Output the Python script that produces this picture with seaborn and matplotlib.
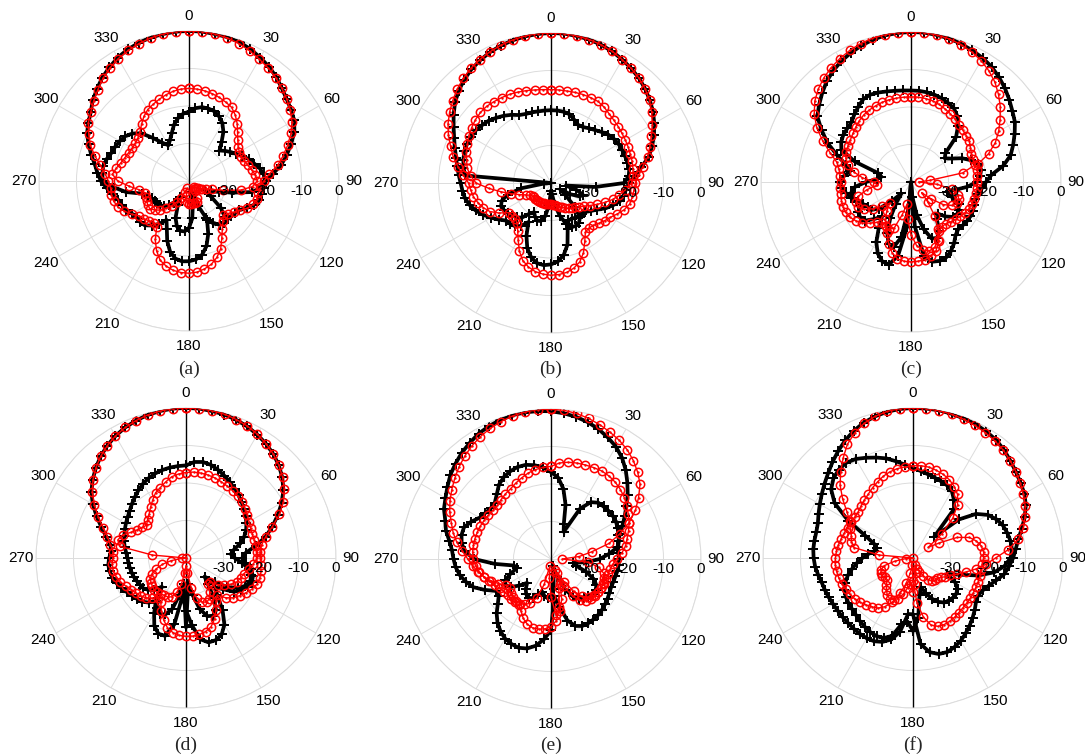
import numpy as np
import matplotlib
matplotlib.use("Agg")
import matplotlib.pyplot as plt
import matplotlib.transforms as mtransforms
import seaborn as sns

# Angular sampling of the radiation patterns (deg, clockwise from broadside)
ANGLES_DEG = list(range(0, 360, 5))
THETA_TICKS_DEG = [0, 30, 60, 90, 120, 150, 180, 210, 240, 270, 300, 330]
THETA_TICK_LABELS = ["0", "30", "60", "90", "120", "150", "180", "210", "240", "270", "300", "330"]
R_TICKS = [-30, -20, -10, 0]
R_TICK_LABELS = ["-30", "-20", "-10", "0"]
PANEL_TAGS = ["(a)", "(b)", "(c)", "(d)", "(e)", "(f)"]
R_MIN, R_MAX = -40, 0

# Normalised gain (dB) -- simulated co-pol / cross-pol, measured co-pol / cross-pol
a_sim_co = [0, 0, -0.2, -0.3, -0.6, -1.2, -2, -2.8, -3.8, -5, -6, -6.8,
            -7.6, -9, -11, -13, -15, -17.5, -19.5, -20, -20.3, -20.8, -21.5, -23,
            -24.5, -25, -25.3, -25.5, -25.6, -25.8, -27, -28.6, -25, -22, -20, -19,
            -18.6, -18.5, -19, -20.5, -23, -26, -28, -26, -24.5, -23.3, -23, -23,
            -22.5, -21.5, -21, -20.5, -19.3, -18, -16.5, -15.5, -14.5, -13, -11.5, -10,
            -9, -8, -6.5, -5.3, -4, -3, -2, -1.3, -0.8, -0.4, -0.2, 0]
a_sim_cx = [-21.5, -20.5, -20, -20, -20.2, -21, -22.2, -24, -26.5, -28.5, -27.5, -26.5,
            -25.5, -24.3, -23, -22, -20.8, -20, -19.8, -20.5, -23, -28, -31.5, -33.5,
            -35, -33, -29, -26.5, -25.5, -25.8, -27, -29, -33, -37, -34, -30,
            -27.5, -26.5, -26.5, -27.5, -29.5, -33, -35, -33, -31.5, -30.5, -30, -29.6,
            -29.5, -29, -28.5, -27, -23, -20, -17, -16.8, -16.8, -17.3, -18, -18.3,
            -18.7, -19.2, -20.3, -22, -25, -27.5, -29, -28, -26.5, -24.5, -23, -22]
a_meas_co = [0, 0, -0.2, -0.5, -1, -1.7, -2.5, -3.2, -4, -5, -6, -7,
             -8.3, -10, -12, -14, -16, -18.5, -20, -21, -21.3, -21.3, -21.8, -22.8,
             -24.4, -25.5, -26.5, -27, -26, -24.5, -22.5, -20, -18.3, -17, -16.2, -15.6,
             -15.4, -15.5, -15.8, -16.5, -17.5, -19.5, -22, -25, -25.5, -25, -24.3, -23.8,
             -22.3, -21, -19.8, -19.2, -19, -19, -18.5, -17.5, -16, -14, -12, -10.5,
             -9, -8, -6.8, -5.6, -4.3, -3.2, -2.3, -1.6, -1, -0.5, -0.2, 0]
a_meas_cx = [-15.3, -15.4, -15.6, -15.9, -16.3, -16.8, -17.3, -18.5, -20, -21.7, -23, -24,
             -24.5, -24.6, -24.3, -23.7, -23, -22.2, -21.8, -23, -26, -30.5, -33.5, -35,
             -36, -36.5, -37, -37.5, -38, -37.5, -37, -35, -34, -34, -34, -33.8,
             -34, -34.5, -36, -38, -37, -35, -33.5, -32, -30.5, -29, -28, -27.2,
             -27.3, -27.5, -27.7, -27.8, -26.5, -24, -21, -19.5, -20.3, -21.2, -21.8, -22.2,
             -22.5, -22.5, -22.2, -21.5, -20.3, -19, -18, -17.4, -16.8, -16.2, -15.7, -15.4]

b_sim_co = [0, 0, -0.2, -0.4, -0.8, -1.3, -2, -2.7, -3.5, -4.5, -5.6, -6.8,
            -8.2, -9.7, -11.3, -13, -15.5, -17.5, -19.2, -20, -20.3, -21, -22.5, -24,
            -25.8, -27, -28, -28.3, -28.5, -28.7, -29, -29, -27, -23, -20.5, -19,
            -18.3, -18, -18.3, -19.5, -21.5, -24.5, -28, -26, -25, -24.6, -24.4, -23,
            -21.5, -20, -18.6, -17.5, -16.7, -16.3, -15.9, -15.3, -14.6, -13.8, -12.7, -11.5,
            -10, -8.3, -6.6, -5.2, -4, -3, -2.2, -1.5, -1, -0.6, -0.3, -0.1]
b_sim_cx = [-20.6, -20.6, -20.7, -21, -22, -22.9, -22.8, -22.2, -21.6, -20.8, -20, -19.5,
            -19.2, -19.1, -19, -18.9, -18.8, -19.2, -20.5, -28, -36, -33, -31, -31.5,
            -34, -37, -35, -31, -28, -27, -26.8, -27, -28.5, -31, -34, -37,
            -38, -34, -31, -29.5, -29.3, -30, -31, -30, -28, -27, -26.5, -26,
            -25.5, -25.3, -26, -28, -32, -38, -40, -17, -16.3, -15.8, -15.4, -15.3,
            -15.4, -15.5, -16, -16.5, -17.3, -18.1, -19, -20, -20.4, -20.5, -20.6, -20.6]
b_meas_co = [0, 0, -0.2, -0.4, -0.8, -1.3, -2, -2.7, -3.5, -4.5, -5.7, -7.2,
             -8.8, -10.5, -12, -13.3, -15.2, -16.5, -17.5, -17.8, -18, -18.3, -19.2, -20.5,
             -21.7, -22.5, -23.3, -24, -24.3, -24, -22, -19.5, -17.6, -16.5, -15.8, -15.5,
             -15.4, -15.6, -16, -16.8, -18, -20, -22.5, -24.5, -26, -26.5, -26.5, -26.2,
             -24, -22, -20.8, -19.8, -19, -18.5, -18, -16.5, -14.8, -13, -11.5, -9.8,
             -8.3, -7, -5.8, -4.6, -3.6, -2.7, -2, -1.4, -0.9, -0.5, -0.2, 0]
b_meas_cx = [-15.1, -15.1, -15.1, -15, -14.9, -14.9, -14.9, -15.3, -15.9, -16.3, -16.6, -16.9,
             -17.1, -17.3, -17.5, -17.6, -17.8, -18, -18.5, -20, -21.5, -23, -24.8, -26.5,
             -28, -29.2, -30.2, -30.8, -31.2, -31.7, -32.3, -32.8, -33.2, -33.6, -34, -34.2,
             -34.3, -34.4, -34.4, -34.3, -34.2, -34.1, -34, -34, -34, -34, -34, -34,
             -33.5, -32.5, -31, -29, -26.5, -23.4, -20, -18.5, -17.3, -16.7, -16, -15.4,
             -14.7, -14.2, -13.7, -13.4, -13.3, -13.5, -13.7, -13.9, -14.2, -14.5, -14.8, -15]

c_sim_co = [0, 0, -0.2, -0.4, -0.8, -1.3, -1.8, -2.5, -3.5, -4.6, -5.8, -7,
            -8, -9.5, -11, -12.5, -15, -18.5, -20, -21, -22, -22.2, -22, -21.8,
            -21.7, -21.8, -22, -22.2, -21.5, -20, -18.7, -17.8, -17.6, -18, -20, -28,
            -40, -28, -20, -17.2, -17.5, -19, -21.5, -25, -28, -26, -24, -23.5,
            -23.8, -25, -24.5, -23.5, -22.5, -21.5, -21, -22, -23.5, -22, -19, -15.5,
            -12.5, -9.5, -8, -6.5, -5, -3.8, -2.8, -2, -1.3, -0.7, -0.3, -0.1]
c_sim_cx = [-15.6, -15.6, -15.7, -15.9, -16.2, -16.7, -17.2, -18.5, -20.5, -23, -28, -29,
            -27.5, -25, -23, -21.5, -21, -21.5, -22.5, -25, -28, -30, -28.5, -26,
            -25.3, -25, -25.5, -27, -29, -28, -25, -23.5, -24, -27, -31, -36,
            -40, -33, -25, -22, -22.5, -25, -29, -33, -36, -33, -29, -27,
            -26.8, -26, -25, -24, -23.8, -25, -28, -31, -32, -31, -24, -19.5,
            -18.5, -18, -17.8, -17.5, -16.5, -15.5, -14.5, -14.3, -14.6, -15, -15.3, -15.5]
c_meas_co = [0, 0, -0.2, -0.5, -1, -1.7, -2.6, -3.8, -5.2, -7, -8.9, -11,
             -13, -15.2, -18, -21.5, -22, -22.2, -22.3, -22.4, -22.5, -22.6, -22.8, -23,
             -23.5, -24, -24.5, -25, -25.5, -25.5, -25, -22.5, -20.5, -19.5, -19, -18.8,
             -18.7, -18.8, -19.2, -20.5, -22.5, -25, -26.5, -26.5, -26, -24.5, -23, -22,
             -21.2, -20.8, -20.7, -20.8, -21, -21.1, -21.2, -21, -20.5, -19.5, -17, -14,
             -11, -8.5, -6.5, -5, -3.8, -2.8, -2, -1.3, -0.7, -0.3, -0.1, 0]
c_meas_cx = [-17.3, -17.3, -17.4, -17.6, -18, -18.5, -19, -19.5, -20, -20.4, -20.8, -21,
             -21.7, -22.2, -22.4, -22.3, -26, -35, -38, -33, -29, -27, -26.5, -26.5,
             -27.5, -29.5, -33, -36, -33, -29, -25.5, -23, -21.5, -21, -21.5, -23,
             -26, -30, -34, -31, -27, -26, -26.5, -28, -30, -32, -30, -27.5,
             -25.5, -24.5, -24.5, -25.5, -28, -31, -30, -27, -24.5, -22.5, -21.5, -21,
             -20.6, -20.3, -19.8, -19.2, -18.6, -18.1, -17.8, -17.6, -17.4, -17.3, -17.3, -17.3]

d_sim_co = [0, 0, -0.2, -0.4, -0.8, -1.3, -2, -2.8, -3.8, -5, -6.5, -8.3,
            -10.5, -13, -15.5, -18, -21, -24, -25, -24, -22.5, -21.5, -21.3, -21.8,
            -23, -24.3, -27, -29, -27, -23, -19.5, -17.5, -16.7, -16.7, -18, -22,
            -26, -30, -22, -18.5, -18.5, -20, -23, -26, -24.5, -23.5, -23, -22.5,
            -21.8, -21, -20.3, -19.7, -19.3, -19.2, -19.5, -20, -19.5, -18, -16, -13.7,
            -11.3, -9.2, -7.5, -6, -4.6, -3.4, -2.4, -1.6, -1, -0.5, -0.2, 0]
d_sim_cx = [-15.3, -14.3, -14, -14.3, -15, -15.8, -16.6, -17.4, -18.2, -19, -19.8, -20.6,
            -21.4, -22.3, -23.5, -25, -27, -28, -27, -25, -23, -22, -21.8, -22.5,
            -24, -26.5, -30, -33, -31, -27, -24, -23, -23.5, -26, -30, -33,
            -21.5, -33, -30, -26, -24, -23.5, -24.5, -27, -30, -28, -26.8, -26,
            -25.8, -25.5, -25.2, -25, -24.8, -24.6, -24.4, -24, -23.4, -22.9, -22.5, -22,
            -21.5, -21, -20.4, -19.6, -18.8, -17.9, -17.1, -16.5, -16, -15.7, -15.5, -15.4]
d_meas_co = [0, 0, -0.1, -0.3, -0.7, -1.2, -1.9, -2.8, -3.8, -5, -6.4, -8,
             -10, -12.5, -15.5, -18, -19.5, -20.2, -20.2, -20, -19.7, -19.6, -19.8, -20.5,
             -21.5, -22.5, -23.5, -25, -27, -26, -24, -22, -20.5, -19.7, -19.3, -19.1,
             -19.1, -19.3, -19.8, -20.8, -22.5, -24.5, -26.5, -27, -26, -25, -24.2, -23.7,
             -23.2, -22.3, -21.4, -20.7, -20.3, -20.2, -20.5, -20.5, -19.5, -18.3, -16.5, -14.2,
             -11.8, -9.5, -7.6, -6, -4.6, -3.4, -2.4, -1.6, -1, -0.5, -0.2, 0]
d_meas_cx = [-17.2, -17, -17, -17.1, -17.3, -17.6, -17.9, -18.2, -18.5, -19, -19.5, -20,
             -20.6, -21, -21.2, -21.2, -21.1, -21, -21, -22, -23, -24, -24.5, -25,
             -26, -27.5, -29, -31, -31, -29, -27.5, -27, -27.5, -29, -32, -36,
             -38, -36, -33, -30.5, -29, -28.5, -28.5, -28.3, -28, -28, -28.3, -28.6,
             -29, -30, -31.5, -33.5, -36, -39, -40, -31, -22, -21.2, -22, -23.8,
             -25, -25.8, -26.3, -25.5, -24.7, -23.5, -22.2, -20.8, -20, -19, -18, -17.5]

e_sim_co = [-0.6, -1, -1.5, -2.2, -3.1, -4.2, -5.4, -7, -9, -11.2, -13.3, -15.5,
            -17.3, -19, -20.5, -21.3, -21.8, -22, -21.9, -21.9, -22, -22.2, -22.3, -22.3,
            -22, -21.6, -21.2, -20.8, -20.5, -20.3, -20.2, -20.3, -21, -23, -27, -30,
            -21, -18.5, -16.5, -15.3, -14.8, -15, -15.5, -16.5, -17.8, -19.5, -21.5, -23,
            -23, -20.5, -18, -16.5, -15.3, -14.5, -14, -13.5, -12.5, -11, -10, -8.5,
            -7.5, -6.3, -5, -4, -3, -2.2, -1.4, -0.9, -0.5, -0.3, -0.3, -0.4]
e_sim_cx = [-16.8, -18.2, -21, -25, -30, -32, -24.5, -21.5, -20.4, -20.2, -20, -19.9,
            -20, -20.4, -20.9, -21.3, -22, -24.5, -27, -30.5, -34, -33, -30, -27.5,
            -26, -25.5, -25.5, -26, -26.5, -27, -28.5, -31, -35, -38, -36, -32,
            -30, -29.5, -30, -31, -30, -28.5, -28, -28.5, -29.5, -31, -29, -27,
            -26, -26.5, -28.5, -30.5, -30, -25, -19.5, -17, -15.8, -15.3, -15.3, -16.5,
            -18, -18.6, -19, -18.8, -17.5, -15.8, -14.8, -14.2, -13.9, -14, -14.6, -15.5]
e_meas_co = [0, -0.2, -0.6, -1.2, -1.9, -2.7, -3.5, -4.5, -5.8, -7.3, -9, -11.5,
             -14, -17, -20.5, -24, -29, -32.5, -37, -30, -27, -25.5, -25, -24.7,
             -24.6, -24.7, -24.8, -25, -25.5, -26.5, -28.5, -32, -37, -32, -27, -23.5,
             -22, -21.3, -21, -21, -21.5, -22.5, -24, -25, -25, -25, -25, -24.8,
             -24.3, -23.5, -22.5, -21.5, -20.3, -19, -17.8, -16.3, -14.5, -13, -11.7, -10.2,
             -8.9, -7.7, -6.5, -5.3, -4.2, -3.2, -2.3, -1.6, -1, -0.5, -0.2, 0]
e_meas_cx = [-15.3, -14.3, -13.8, -13.5, -13.3, -13.1, -12.9, -13, -13.3, -13.8, -14.5, -15.3,
             -16.2, -17, -18, -19, -19.8, -21, -22.5, -23.5, -24, -24.2, -24.4, -24.5,
             -24.6, -24.8, -25, -25.5, -27, -29.5, -33, -36, -33, -29, -26, -25,
             -30, -35, -38, -33, -29, -27, -26, -25.5, -25.3, -25.5, -26, -26.5,
             -26, -24.5, -23, -21.5, -20.5, -19.8, -19.3, -19, -19, -19, -19.1, -19.2,
             -19.4, -19.6, -19.8, -19.8, -19.3, -18.8, -18.4, -17.7, -17, -16.3, -15.8, -15.5]

f_sim_co = [0, 0, 0, -0.2, -0.4, -0.6, -1, -1.5, -2.3, -3.3, -4.2, -5,
            -5.7, -6.8, -8.3, -10, -11.5, -12.5, -13.3, -14.3, -15.3, -17, -18.5, -19.5,
            -20, -19.5, -18.5, -17.5, -16.5, -15.5, -14.5, -13.8, -13.3, -13.5, -14.5, -17,
            -25, -25, -20, -17.5, -16.2, -15.5, -15.3, -15.3, -15.4, -15.5, -15.5, -15.5,
            -15.4, -15.2, -15, -14.8, -14.3, -13.8, -13.5, -13.3, -13.3, -13.3, -13, -12.2,
            -11.3, -10.3, -9.2, -8, -6.6, -5.2, -3.8, -2.6, -1.6, -0.9, -0.4, -0.1]
f_sim_cx = [-16, -16.7, -17.3, -17.8, -18.2, -18.6, -19.3, -21, -23, -32, -24, -19.5,
            -17, -15.5, -14.5, -14, -13.6, -13.5, -14, -15.5, -18, -22, -27, -30,
            -27, -25.5, -25, -25, -25.2, -25.5, -26.5, -28, -30, -32, -30, -24,
            -20.5, -23, -22, -18.5, -17.3, -17, -17.2, -17.6, -18, -18.5, -18.8, -19,
            -19.3, -19.8, -20.8, -22, -23.5, -25, -26.5, -28, -29.5, -30, -29, -26,
            -20, -14.5, -11.5, -10, -9.2, -9, -9.5, -10.5, -11.5, -12.5, -13.8, -15]
f_meas_co = [0, 0, -0.1, -0.3, -0.6, -1, -1.4, -1.9, -2.5, -3.3, -4.2, -5.1,
             -6, -7, -8.2, -9.6, -11.5, -14.5, -18, -20.5, -23, -25.5, -27.5, -29,
             -30, -31, -31.5, -31.7, -32, -33, -34.5, -36, -37, -38, -36, -33,
             -31, -33, -32, -30, -28.5, -27.7, -27.5, -28, -29, -30, -31, -31,
             -30.5, -30.5, -31, -32, -35, -38, -40, -31, -24, -23, -22.5, -21.5,
             -20.5, -18.5, -15.5, -12.5, -10, -7.5, -5, -3.2, -1.8, -0.9, -0.3, 0]
f_meas_cx = [-15.4, -15.3, -15.4, -15.8, -16.3, -17, -18, -19.3, -21.5, -25, -30, -35,
             -32, -27, -24, -22.5, -21.5, -21.1, -21.2, -21.4, -21.5, -21.5, -21.5, -21.5,
             -21.4, -21.3, -21.3, -21.2, -21, -20.7, -20.5, -20.4, -20.6, -21.5, -24, -28,
             -34, -38, -36, -33, -30, -27, -25, -23.7, -23, -22.3, -21.6, -21,
             -20.6, -20.2, -19.8, -19.5, -19.3, -19.2, -19.3, -19.5, -19.8, -20.2, -20.5, -20.8,
             -21, -21, -20.9, -20.4, -19.8, -19.2, -18.4, -17.6, -16.8, -16.2, -15.8, -15.6]

PANEL_SERIES = [
    (a_sim_co, a_sim_cx, a_meas_co, a_meas_cx),
    (b_sim_co, b_sim_cx, b_meas_co, b_meas_cx),
    (c_sim_co, c_sim_cx, c_meas_co, c_meas_cx),
    (d_sim_co, d_sim_cx, d_meas_co, d_meas_cx),
    (e_sim_co, e_sim_cx, e_meas_co, e_meas_cx),
    (f_sim_co, f_sim_cx, f_meas_co, f_meas_cx),
]

# ---- layout (pixels of the 1085 x 756 canvas) ----
W, H = 1085, 756
RADIUS = 150
CENTERS = [(189, 181), (551, 183), (911, 182), (186, 558), (551, 559), (913, 558)]
TAG_XY = [(189, 369), (551, 369), (911, 369), (186, 745), (551, 745), (913, 745)]
GRID_COLOR = "#dcdcdc"

sns.set_theme(style="white")
plt.rcParams["font.family"] = ["Liberation Sans", "DejaVu Sans"]

fig = plt.figure(figsize=(W / 100, H / 100), dpi=100)


def closed(values):
    th = np.deg2rad(np.array(ANGLES_DEG + [360], dtype=float))
    r = np.clip(np.array(list(values) + [values[0]], dtype=float), R_MIN, R_MAX)
    return th, r


def draw_sim(ax, values):
    th, r = closed(values)
    sns.lineplot(x=th, y=r, ax=ax, sort=False, estimator=None, color="black",
                 linewidth=2.7, marker="+", markersize=7, markeredgewidth=1.4,
                 markeredgecolor="black", zorder=3)


def draw_meas(ax, values):
    th, r = closed(values)
    sns.lineplot(x=th, y=r, ax=ax, sort=False, estimator=None, color="red",
                 linewidth=1.0, marker="o", markersize=6, markerfacecolor="none",
                 markeredgewidth=1.1, markeredgecolor="red", zorder=4)
    sns.scatterplot(x=th[:-1], y=r[:-1], ax=ax, s=3, color="red",
                    linewidth=0, zorder=5)


for (cx, cy), (tx, ty), tag, series in zip(CENTERS, TAG_XY, PANEL_TAGS, PANEL_SERIES):
    ax = fig.add_axes([(cx - RADIUS) / W, 1 - (cy + RADIUS) / H,
                       2 * RADIUS / W, 2 * RADIUS / H], projection="polar")
    ax.set_theta_zero_location("N")
    ax.set_theta_direction(-1)

    sim_co, sim_cx, meas_co, meas_cx = series
    draw_sim(ax, sim_co)
    draw_sim(ax, sim_cx)
    draw_meas(ax, meas_co)
    draw_meas(ax, meas_cx)

    ax.set_ylim(R_MIN, R_MAX)
    ax.set_xticks(np.deg2rad(THETA_TICKS_DEG))
    ax.set_xticklabels([])
    ax.set_yticks(R_TICKS)
    ax.set_yticklabels([])
    ax.set_xlabel("")
    ax.set_ylabel("")
    ax.grid(True, color=GRID_COLOR, linewidth=0.7)
    ax.spines["polar"].set_color(GRID_COLOR)
    ax.spines["polar"].set_linewidth(0.7)
    ax.patch.set_alpha(0)

    # broadside / backside axis line
    ax.axvline(0, color="black", linewidth=1.0, zorder=2.5)
    ax.axvline(np.pi, color="black", linewidth=1.0, zorder=2.5)

    # angle labels
    for deg, lab in zip(THETA_TICKS_DEG, THETA_TICK_LABELS):
        ax.text(np.deg2rad(deg), R_MAX + 3.9, lab, ha="center", va="center",
                fontsize=11, color="black")

    # radial labels, set slightly below the 90 deg spoke
    shifted = mtransforms.offset_copy(ax.transData, fig=fig, x=0, y=-10, units="dots")
    for rv, lab in zip(R_TICKS, R_TICK_LABELS):
        ax.text(np.pi / 2, rv, lab, transform=shifted, ha="center", va="center",
                fontsize=11, color="black", zorder=6)

    fig.text(tx / W, 1 - ty / H, tag, ha="center", va="center", fontsize=14,
             family=["Liberation Serif", "DejaVu Serif"])

fig.savefig("out.png", dpi=100, facecolor="white")
